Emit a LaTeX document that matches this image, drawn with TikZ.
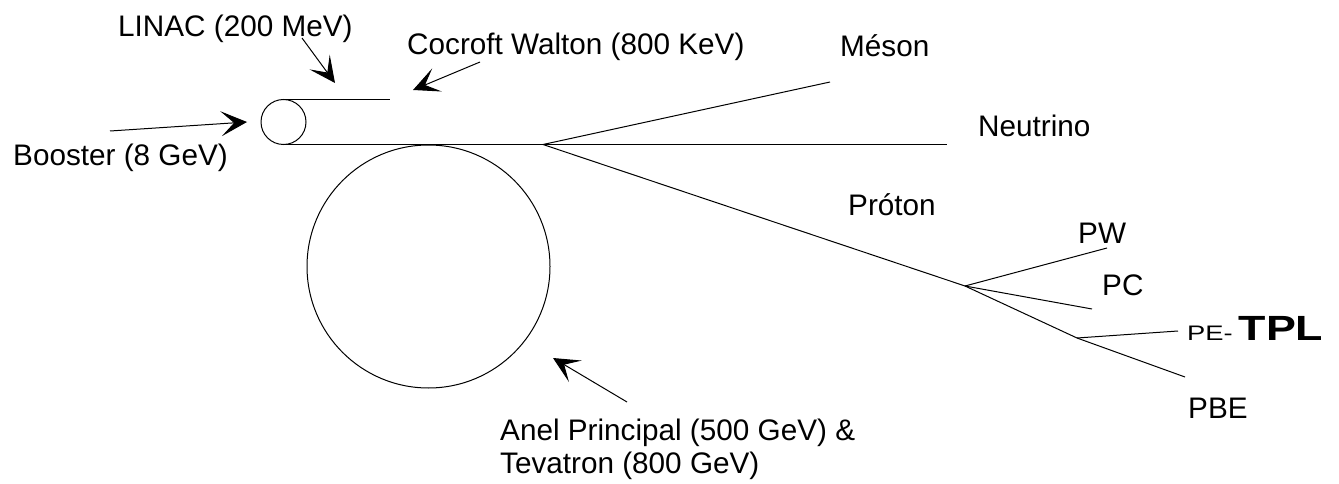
\documentclass[tikz,border=0pt]{standalone}
\usepackage{fontspec}
\usepackage{graphicx}
\setmainfont{Liberation Sans}
\usetikzlibrary{arrows.meta}
\begin{document}
\begin{tikzpicture}[x=1pt,y=-1pt,
  beam/.style={line width=1pt},
  pointer/.style={line width=1pt,-{Stealth[length=26pt,width=25pt,inset=13pt]}},
  lbl/.style={inner sep=0pt,anchor=base west,font=\fontsize{29.7}{34}\selectfont}]
\useasboundingbox (0,0) rectangle (1339,484);
% rings
\node[circle,draw,line width=1pt,minimum size=45pt,inner sep=0pt] (booster) at (283.5,122) {};
\node[circle,draw,line width=1pt,minimum size=243pt,inner sep=0pt] (main) at (428.5,266.5) {};
% beam coordinates
\coordinate (topA) at (283.5,99.5);
\coordinate (topB) at (390,99.5);
\coordinate (botA) at (283.5,144.5);
\coordinate (split) at (543,144.5);
\coordinate (nuEnd) at (947,144.5);
\coordinate (mesEnd) at (830,82);
\coordinate (pb1) at (965,286);
\coordinate (pwEnd) at (1107,248);
\coordinate (pcEnd) at (1092,309);
\coordinate (pb2) at (1077,338);
\coordinate (peEnd) at (1178,331);
\coordinate (pbeEnd) at (1185,377);
\draw[beam] (topA) -- (topB);
\draw[beam] (botA) -- (split) -- (nuEnd);
\draw[beam] (split) -- (mesEnd);
\draw[beam] (split) -- (pb1) -- (pb2) -- (pbeEnd);
\draw[beam] (pb1) -- (pwEnd);
\draw[beam] (pb1) -- (pcEnd);
\draw[beam] (pb2) -- (peEnd);
% labels
\node[lbl] (linac) at (118,37) {LINAC (200 MeV)};
\node[lbl] (cocroft) at (407,55) {Cocroft Walton (800 KeV)};
\node[lbl] (meson) at (840,57) {Méson};
\node[lbl] (neutrino) at (978,137) {Neutrino};
\node[lbl] (booster-lbl) at (13,166) {Booster (8 GeV)};
\node[lbl] (proton) at (848,215) {Próton};
\node[lbl] (pw) at (1078,243) {PW};
\node[lbl] (pc) at (1102,295) {PC};
\node[lbl,font=\normalfont] (pe) at (1187,340) {{\fontsize{21}{21}\selectfont\scalebox{1.3}[1]{PE-}}\hspace{6pt}{\fontsize{35}{35}\selectfont\bfseries\scalebox{1.28}[1]{TPL}}};
\node[lbl] (pbe) at (1188,418) {PBE};
\node[lbl] (anel) at (500,440) {Anel Principal (500 GeV) \&};
\node[lbl] (tevatron) at (500,473) {Tevatron (800 GeV)};
% pointer arrows
\coordinate (boosterTail) at (110,131);
\coordinate (boosterTip) at (247,122);
\coordinate (linacTail) at (302,38);
\coordinate (linacTip) at (335,83);
\coordinate (cocTail) at (480,62);
\coordinate (cocTip) at (413,90);
\coordinate (anelTail) at (627,402);
\coordinate (anelTip) at (553,358);
\draw[pointer] (boosterTail) -- (boosterTip);
\draw[pointer] (linacTail) -- (linacTip);
\draw[pointer] (cocTail) -- (cocTip);
\draw[pointer] (anelTail) -- (anelTip);
\end{tikzpicture}
\end{document}
